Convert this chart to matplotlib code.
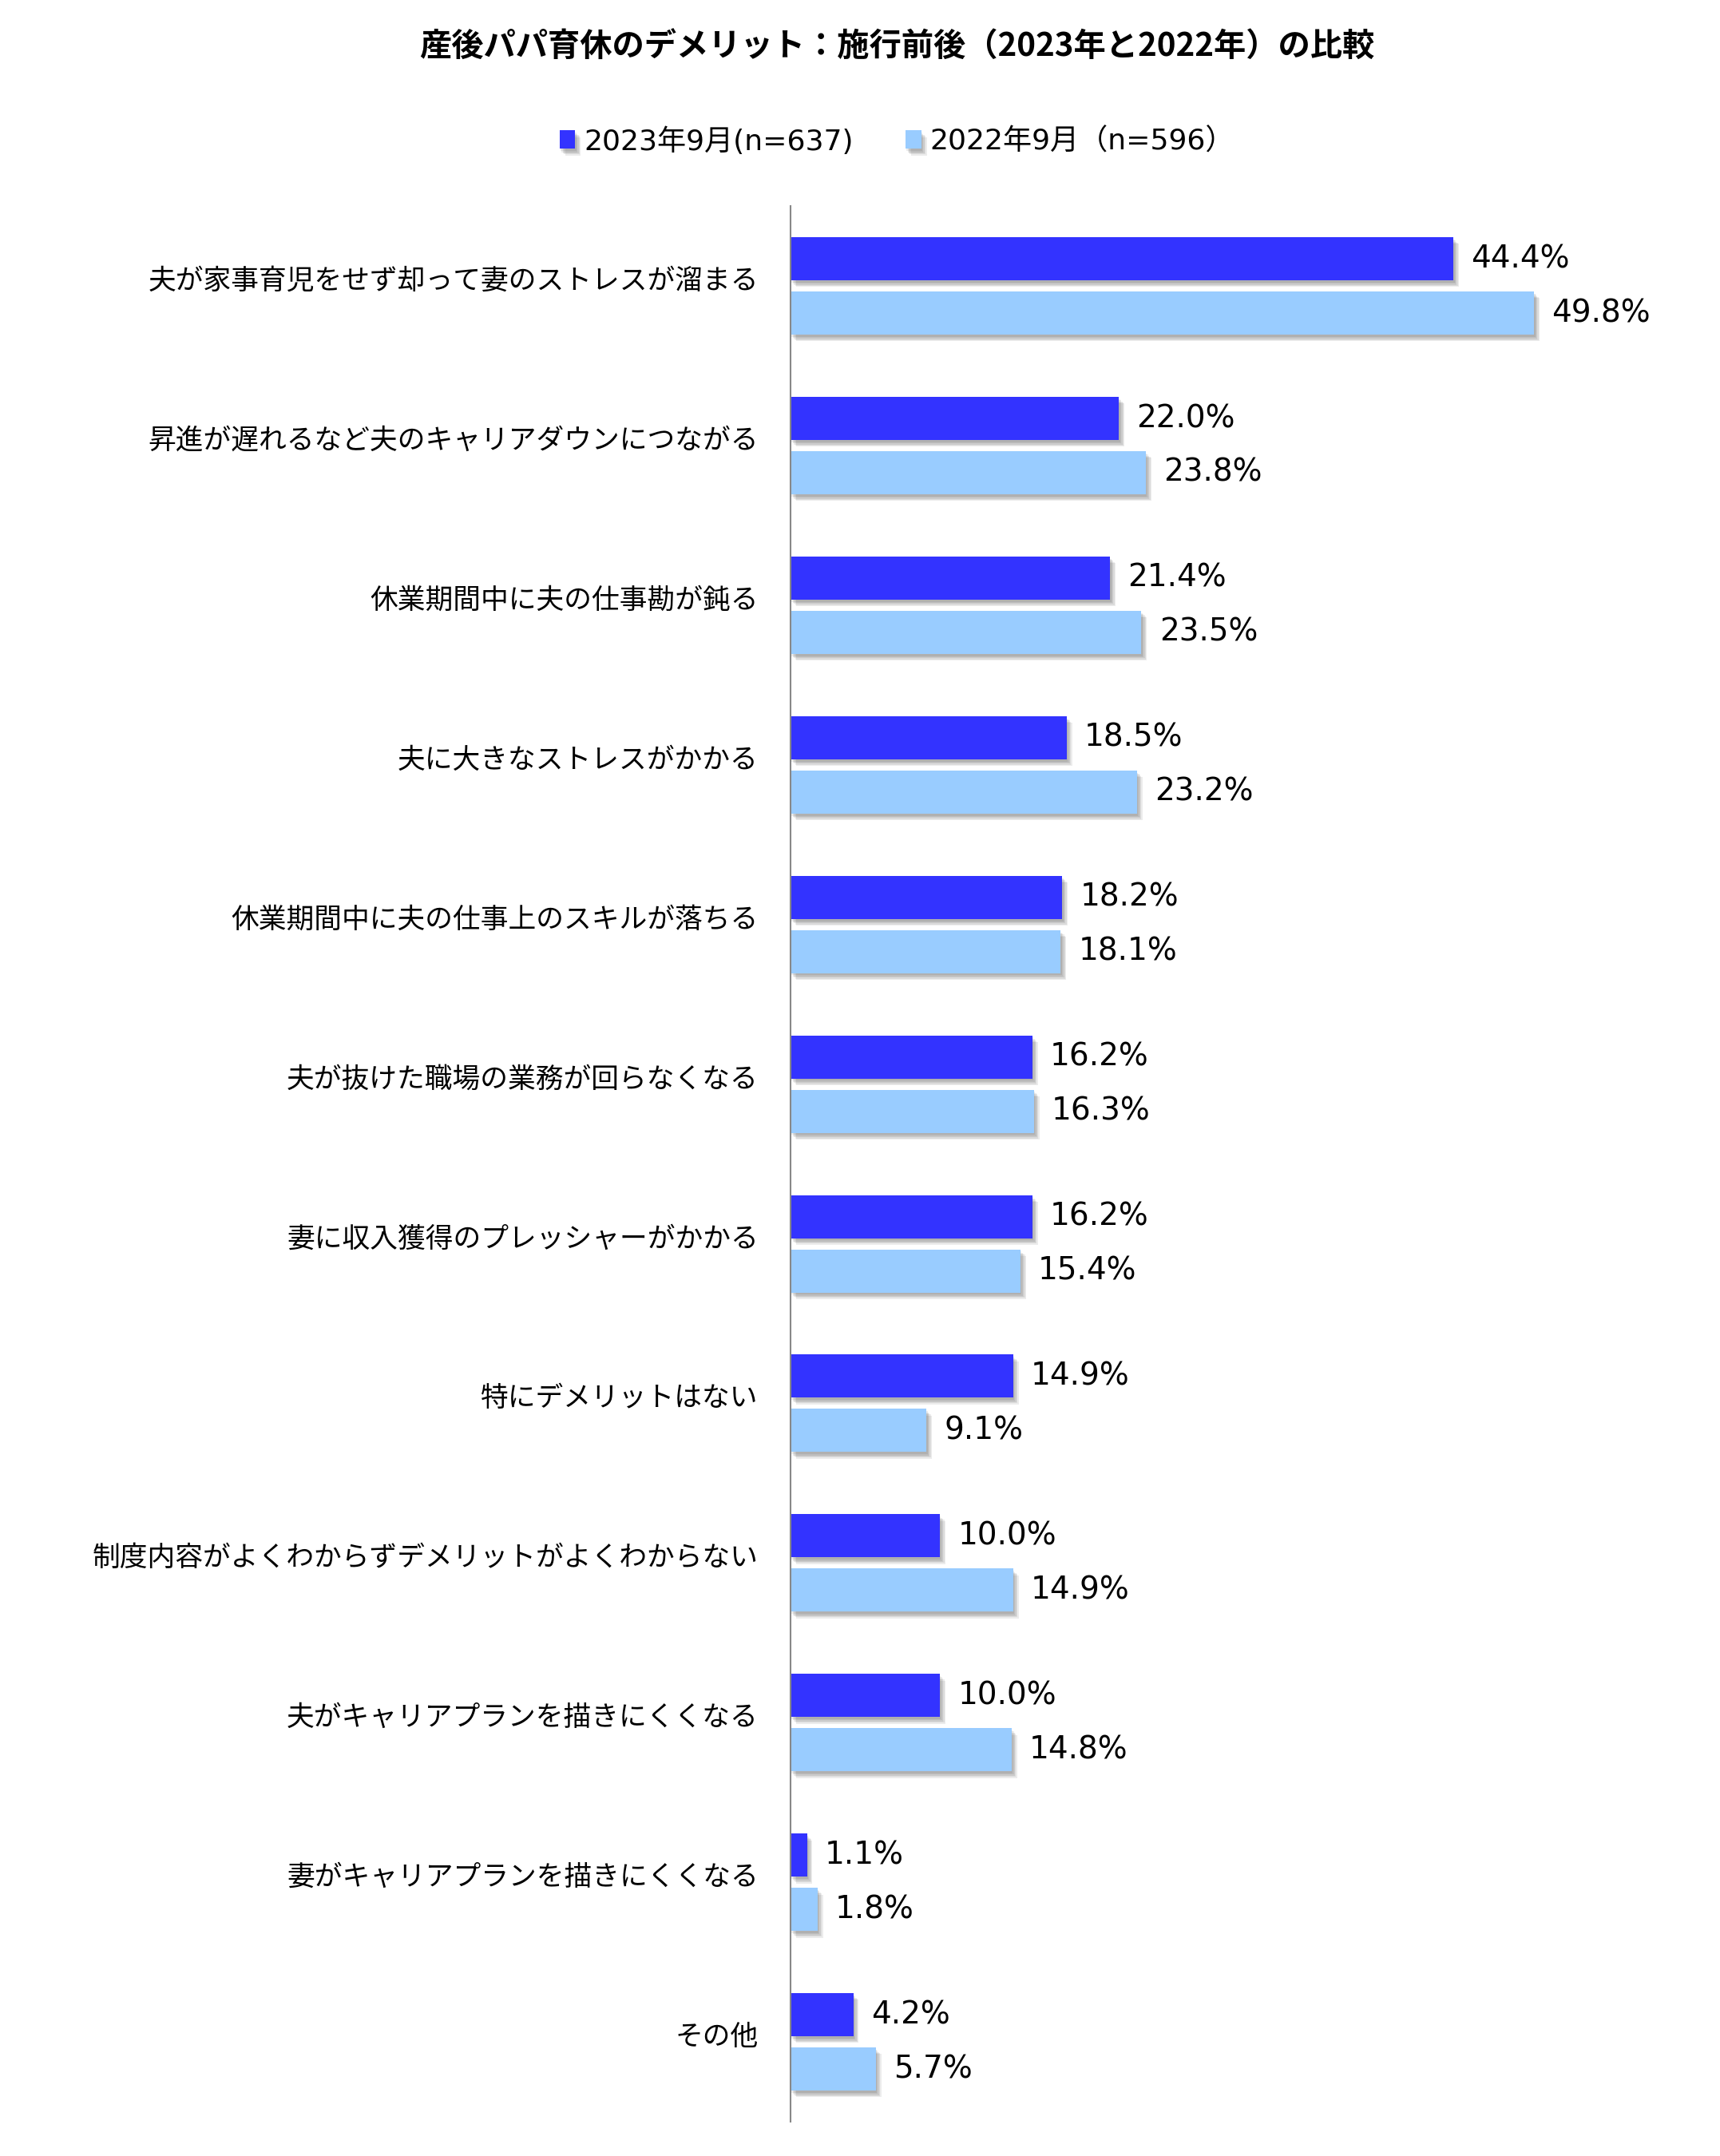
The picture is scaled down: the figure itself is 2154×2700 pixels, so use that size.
import numpy as np
import matplotlib.pyplot as plt
import matplotlib.patheffects as pe
from matplotlib.transforms import ScaledTranslation

plt.rcParams['font.family'] = ['Noto Sans CJK JP', 'DejaVu Sans']

# categories (top to bottom) and values in %
categories = [
    '夫が家事育児をせず却って妻のストレスが溜まる',
    '昇進が遅れるなど夫のキャリアダウンにつながる',
    '休業期間中に夫の仕事勘が鈍る',
    '夫に大きなストレスがかかる',
    '休業期間中に夫の仕事上のスキルが落ちる',
    '夫が抜けた職場の業務が回らなくなる',
    '妻に収入獲得のプレッシャーがかかる',
    '特にデメリットはない',
    '制度内容がよくわからずデメリットがよくわからない',
    '夫がキャリアプランを描きにくくなる',
    '妻がキャリアプランを描きにくくなる',
    'その他',
]
values_2023 = [44.4, 22.0, 21.4, 18.5, 18.2, 16.2, 16.2, 14.9, 10.0, 10.0, 1.1, 4.2]
values_2022 = [49.8, 23.8, 23.5, 23.2, 18.1, 16.3, 15.4, 9.1, 14.9, 14.8, 1.8, 5.7]
series_names = ['2023年9月(n=637)', '2022年9月（n=596）']
colors = ['#3333FF', '#99CCFF']

fig = plt.figure(figsize=(21.54, 27), dpi=100)
ax = fig.add_axes([0.4596, 0.0159, 0.5209, 0.8885])

y = np.arange(len(categories))
h = 0.27
# soft drop shadow: a few stacked faint shadows
shadow = [pe.SimplePatchShadow(offset=(o, -o - 1), alpha=0.09, shadow_rgbFace='#333333')
          for o in (1, 2, 3, 4, 5)] + [pe.Normal()]

b1 = ax.barh(y - 0.17, values_2023, height=h, color=colors[0], label=series_names[0])
b2 = ax.barh(y + 0.17, values_2022, height=h, color=colors[1], label=series_names[1])
for bars in (b1, b2):
    for p in bars:
        p.set_path_effects(shadow)

# value labels
for yy, v in zip(y - 0.17, values_2023):
    ax.annotate(f'{v:.1f}%', (v, yy), xytext=(16, 0), textcoords='offset points',
                va='center', ha='left', fontsize=28, family='DejaVu Sans')
for yy, v in zip(y + 0.17, values_2022):
    ax.annotate(f'{v:.1f}%', (v, yy), xytext=(16, 0), textcoords='offset points',
                va='center', ha='left', fontsize=28, family='DejaVu Sans')

ax.set_xlim(0, 60)
ax.set_ylim(len(categories) - 0.5, -0.5)
ax.set_yticks(y)
ax.set_yticklabels(categories, fontsize=25)
ax.tick_params(axis='y', length=0, pad=29)
for lab in ax.get_yticklabels():
    lab.set_transform(lab.get_transform() + ScaledTranslation(0, 7 / 72, fig.dpi_scale_trans))
ax.set_xticks([])
for s in ['top', 'right', 'bottom']:
    ax.spines[s].set_visible(False)
ax.spines['left'].set_color('#888888')
ax.spines['left'].set_linewidth(1.5)

fig.text(0.5215, 0.978, '産後パパ育休のデメリット：施行前後（2023年と2022年）の比較',
         ha='center', va='center', fontsize=29, fontweight='bold')

fig.legend(handles=[b1, b2], labels=series_names, loc='center', ncol=2,
           bbox_to_anchor=(0.5215, 0.9345), frameon=False,
           prop={'family': ['DejaVu Sans', 'Noto Sans CJK JP'], 'size': 26},
           handlelength=0.55, handleheight=0.6, handletextpad=0.3, columnspacing=1.8)

fig.savefig('out.png', dpi=100, facecolor='white')
